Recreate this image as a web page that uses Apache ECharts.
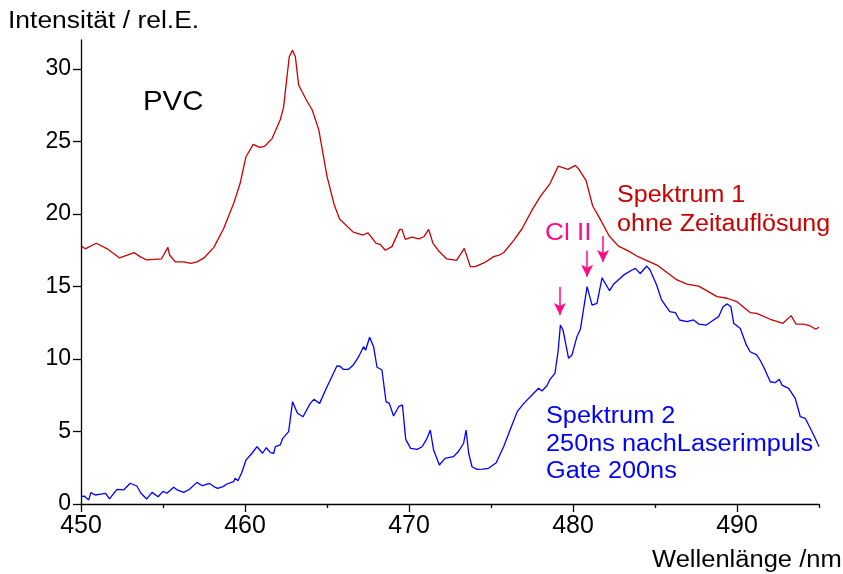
<!DOCTYPE html>
<html><head><meta charset="utf-8">
<script src="https://cdn.jsdelivr.net/npm/echarts@6/dist/echarts.min.js"></script>
<style>html,body{margin:0;padding:0;background:#fff}#c{width:843px;height:574px}</style>
</head><body><div id="c"></div>
<script>
const xTicks = [450, 460, 470, 480, 490];
const xMinorTicks = [455, 465, 475, 485, 495];
const yTicks = [0, 5, 10, 15, 20, 25, 30];

const redX = [450.0,450.26,450.93,451.6,452.35,453.25,453.6,454.0,454.9,455.3,455.4,455.75,456.26,456.7,457.07,457.5,458.1,458.7,459.3,459.7,460.06,460.5,460.9,461.2,461.65,462.15,462.35,462.7,462.9,463.07,463.27,463.74,464.1,464.5,465.0,465.45,465.77,466.6,467.2,467.5,468.0,468.25,468.55,468.96,469.43,469.57,469.77,470.18,470.6,470.9,471.2,471.46,471.8,472.3,472.9,473.37,473.74,474.04,474.6,475.16,475.5,475.77,476.4,476.9,477.5,478.0,478.6,479.1,479.7,480.14,480.35,480.8,481.2,481.6,482.2,482.75,483.33,483.9,485.12,486.34,486.95,487.66,488.17,488.78,489.39,490.0,490.8,491.2,492.03,492.8,493.3,493.6,494.06,494.47,494.8,495.0];
const redY = [17.8,17.6,17.98,17.6,16.97,17.33,17.06,16.83,16.9,17.7,17.17,16.7,16.7,16.6,16.7,16.97,17.7,19.0,20.7,22.1,23.95,24.8,24.6,24.67,25.2,26.5,27.35,30.85,31.3,30.85,28.9,27.86,27.17,25.8,22.6,20.6,19.66,18.75,18.55,18.7,17.98,17.9,17.5,17.75,18.94,18.94,18.25,18.4,18.28,18.43,18.94,17.98,17.47,16.9,16.8,17.63,16.37,16.37,16.64,17.06,17.17,17.33,18.2,19.0,20.27,21.2,22.1,23.3,23.08,23.35,23.1,22.3,20.55,19.77,18.5,17.8,17.47,17.1,16.48,15.45,15.17,15.03,14.7,14.3,14.19,13.95,13.2,13.15,12.74,12.46,12.99,12.4,12.4,12.28,12.05,12.19];

const blueX = [450.0,450.2,450.47,450.6,450.87,451.2,451.5,451.74,452.0,452.2,452.6,453.0,453.4,453.66,454.0,454.33,454.7,455.0,455.24,455.65,455.9,456.26,456.6,457.07,457.4,457.84,458.1,458.33,458.66,458.9,459.3,459.4,459.57,459.8,460.06,460.43,460.73,461.07,461.3,461.55,461.75,461.85,462.15,462.3,462.66,462.9,463.2,463.54,463.98,464.2,464.55,465.0,465.2,465.6,465.8,466.0,466.3,466.6,466.93,467.23,467.35,467.6,467.84,468.05,468.35,468.6,468.8,469.06,469.37,469.6,469.8,470.1,470.5,470.8,471.1,471.3,471.5,471.85,472.2,472.7,473.0,473.33,473.48,473.64,473.84,474.15,474.5,474.85,475.32,475.77,476.28,476.6,477.0,477.5,477.9,478.1,478.4,478.6,478.9,479.1,479.23,479.39,479.73,479.94,480.24,480.45,480.86,481.16,481.46,481.77,482.23,482.47,483.1,483.6,483.8,484.1,484.5,484.7,485.1,485.4,485.9,486.24,486.5,486.95,487.35,487.66,488.13,488.57,488.88,489.15,489.4,489.63,489.8,490.2,490.57,490.8,491.2,491.4,491.62,492.03,492.33,492.58,492.74,493.15,493.55,493.86,494.16,494.47,494.77,495.0];
const blueY = [0.5,0.55,0.28,0.78,0.62,0.68,0.74,0.35,0.74,1.01,0.97,1.43,1.24,0.74,0.34,0.8,0.5,0.87,0.74,1.15,0.95,0.8,1.0,1.49,1.26,1.42,1.2,1.08,1.2,1.38,1.54,1.77,1.61,2.16,3.03,3.5,3.95,3.5,3.88,3.54,3.5,3.95,4.07,4.53,4.99,7.06,6.26,6.02,6.94,7.22,6.94,8.09,8.55,9.52,9.5,9.28,9.28,9.58,10.16,10.85,10.6,11.5,10.85,9.43,9.24,7.06,6.94,6.07,6.71,6.83,4.46,3.84,3.77,3.95,4.53,5.1,3.72,2.69,3.15,3.26,3.6,4.19,5.1,3.5,2.57,2.39,2.4,2.46,2.85,3.95,5.45,6.37,6.94,7.52,7.98,7.79,8.14,8.6,9.01,10.62,12.34,12.0,10.05,10.28,11.54,12.05,14.99,13.72,13.84,15.6,14.71,15.15,15.8,16.14,16.25,15.9,16.41,16.14,15.1,14.07,13.26,13.2,12.69,12.57,12.69,12.41,12.34,12.69,12.92,13.6,13.8,13.6,12.46,12.1,10.97,10.5,10.28,9.93,9.47,8.43,8.37,8.6,8.2,7.98,7.29,6.02,5.91,5.22,4.53,3.95];

// Cl II arrows: [x, yStart, yEnd]
const arrowX = [479.2, 480.86, 481.83];
const arrowY0 = [14.97, 17.47, 18.48];
const arrowY1 = [13.03, 15.68, 16.69];

const FONT = '"Liberation Sans", Arial, sans-serif';
const RED = '#c80000', BLUE = '#0000ff', PINK = '#ff0a87';

const chart = echarts.init(document.getElementById('c'), null, {renderer: 'canvas'});
const zip = (a, b) => a.map((v, i) => [v, b[i]]);

function txt(text, x, y, size, color, sx, lh) {
  return {type: 'text', x: x, y: y, scaleX: sx, style: {text: text, font: size + 'px ' + FONT, fill: color,
    lineHeight: lh || size, textAlign: 'left', textVerticalAlign: 'top'}};
}

chart.setOption({
  animation: false,
  backgroundColor: '#fff',
  grid: {left: 81, right: 24, top: 40, bottom: 70},
  xAxis: [{
    type: 'value', min: 450, max: 495, interval: 10,
    axisLine: {lineStyle: {color: '#000', width: 1.3}},
    axisTick: {length: 8, customValues: xTicks, lineStyle: {color: '#000', width: 1.3}},
    axisLabel: {color: '#000', fontSize: 25, fontFamily: FONT, margin: 10, customValues: xTicks,
      formatter: v => xTicks.includes(v) ? String(v) : ''},
    splitLine: {show: false}
  }, {
    type: 'value', min: 450, max: 495, interval: 5, position: 'bottom',
    axisLine: {show: false},
    axisTick: {show: true, length: 4, customValues: xMinorTicks, lineStyle: {color: '#000', width: 1.3}},
    axisLabel: {show: false},
    splitLine: {show: false}
  }],
  yAxis: {
    type: 'value', min: 0, max: 32, interval: 5,
    axisLine: {show: true, lineStyle: {color: '#000', width: 1.3}},
    axisTick: {show: true, length: 8, customValues: yTicks, lineStyle: {color: '#000', width: 1.3}},
    axisLabel: {color: '#000', fontSize: 23, fontFamily: FONT, margin: 10, customValues: yTicks,
      formatter: v => yTicks.includes(v) ? String(v) : ''},
    splitLine: {show: false}
  },
  series: [
    {type: 'line', data: zip(redX, redY), showSymbol: false, lineStyle: {color: RED, width: 1.3}, z: 2},
    {type: 'line', data: zip(blueX, blueY), showSymbol: false, lineStyle: {color: BLUE, width: 1.3}, z: 3,
      markLine: {
        silent: true, symbol: ['none', 'arrow'], symbolSize: [9, 12],
        label: {show: false},
        lineStyle: {color: PINK, width: 1.5, type: 'solid'},
        data: arrowX.map((x, i) => [{coord: [x, arrowY0[i]]}, {coord: [x, arrowY1[i]]}])
      }}
  ],
  graphic: [
    txt('Intensität / rel.E.', 8, 10, 23, '#000', 1.15),
    txt('PVC', 143, 88, 28, '#000', 1.05),
    txt('Spektrum 1\nohne Zeitauflösung', 617, 181, 23, RED, 1.09, 29),
    txt('Cl II', 545, 221, 24, PINK, 1.09),
    txt('Spektrum 2\n250ns nachLaserimpuls\nGate 200ns', 546, 403, 23, BLUE, 1.10, 27.5),
    txt('Wellenlänge /nm', 652, 549, 23, '#000', 1.11)
  ]
});
</script></body></html>
